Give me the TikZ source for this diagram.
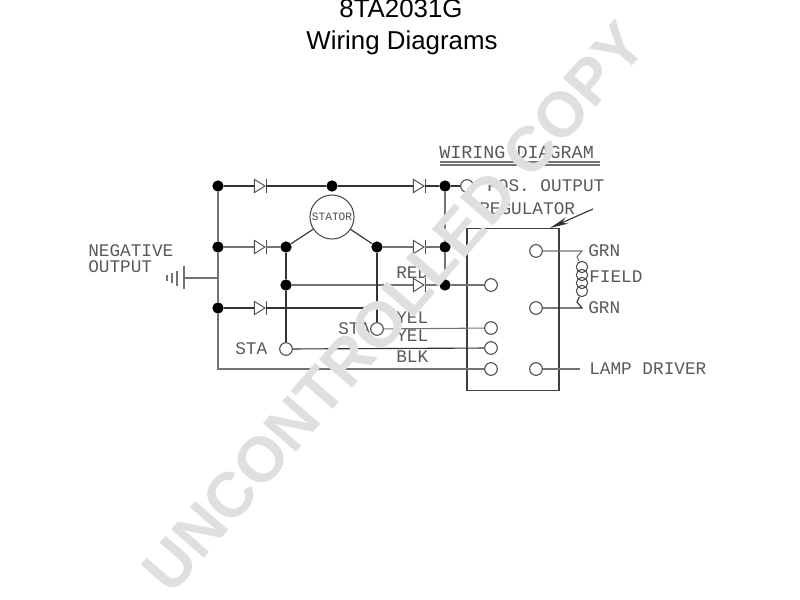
\documentclass[tikz,border=0pt]{standalone}
\usepackage{fontspec}
\setmainfont{Liberation Sans}
\setmonofont{Liberation Mono}
\usetikzlibrary{shapes.geometric}
\usetikzlibrary{arrows.meta}
\definecolor{wmark}{HTML}{DFDFDF}

\begin{document}
\begin{tikzpicture}[
        x=0.75pt, y=-0.75pt,
        wire/.style={draw=black!80, line width=0.85pt},
        wirelight/.style={draw=black!55, line width=0.8pt},
        dot/.style={circle, fill=black, inner sep=0pt, minimum size=8.5pt},
        term/.style={circle, draw=black!70, fill=white, line width=0.8pt, inner sep=0pt, minimum size=9.5pt},
        diode/.style={isosceles triangle, isosceles triangle stretches, draw=black!70, fill=white, line width=0.7pt, inner sep=0pt, minimum height=8pt, minimum width=10pt,
          append after command={([yshift=5pt]\tikzlastnode.apex) edge[black!70, line width=0.7pt] ([yshift=-5pt]\tikzlastnode.apex)}},
        cad/.style={font=\ttfamily\fontsize{13.3}{14}\selectfont, text=black!65, inner sep=0pt, anchor=west},
        coilturn/.style={circle, draw=black!70, line width=0.8pt, inner sep=0pt, minimum size=8.5pt}
      ]
        \useasboundingbox (0,0) rectangle (800,600);

        % titles
        \node[font=\fontsize{19.4}{20}\selectfont] (title)  at (401,9)  {8TA2031G};
        \node[font=\fontsize{19.4}{20}\selectfont] (titleb) at (402,43) {Wiring Diagrams};

        % junctions
        \node[dot] (topL)  at (218,186) {};
        \node[dot] (topM)  at (332,186) {};
        \node[dot] (topR)  at (445,186) {};
        \node[dot] (midL)  at (218,247) {};
        \node[dot] (midA)  at (286,247) {};
        \node[dot] (midB)  at (377,247) {};
        \node[dot] (midR)  at (445,247) {};
        \node[dot] (redA)  at (286,285) {};
        \node[dot] (redB)  at (445,285) {};
        \node[dot] (lowL)  at (218,308) {};
        \coordinate (lowR)  at (377,308);
        \coordinate (botL)  at (218,369);
        \coordinate (gndT)  at (218,278);

        % diodes
        \node[diode] (dTopA) at (258,186) {};
        \node[diode] (dTopB) at (417,186) {};
        \node[diode] (dMidA) at (258,247) {};
        \node[diode] (dMidB) at (417,247) {};
        \node[diode] (dRed)  at (417,285) {};
        \node[diode] (dLow)  at (258,308) {};

        % stator
        \node[circle, draw=black!70, fill=white, line width=0.8pt, minimum size=33pt, inner sep=0pt] (stator) at (332,217) {};
        \node[font=\ttfamily\fontsize{8.4}{9}\selectfont, text=black!70, inner sep=0pt] (statorT) at (332,217) {STATOR};

        % terminals
        \node[term] (posT)  at (467,186) {};
        \node[term] (stA)   at (286,349) {};
        \node[term] (stB)   at (377,329) {};
        \node[term] (regA)  at (491,285) {};
        \node[term] (regB)  at (491,328) {};
        \node[term] (regC)  at (491,348) {};
        \node[term] (regD)  at (491,369) {};
        \node[term] (regE)  at (536,251) {};
        \node[term] (regF)  at (536,308) {};
        \node[term] (regG)  at (536,369) {};

        % regulator box
        \node[rectangle, draw=black!75, line width=0.9pt, minimum width=69pt, minimum height=122pt] (reg) at (513,309.5) {};

        % wires
        \draw[wire]      (topL) -- (dTopA) -- (topM) -- (dTopB) -- (topR) -- (posT);
        \draw[wirelight] (midL) -- (dMidA) -- (midA);
        \draw[wirelight] (midB) -- (dMidB) -- (midR);
        \draw[wire]      (midA) -- (stator);
        \draw[wire]      (midB) -- (stator);
        \draw[wirelight] (topL) -- (midL) -- (lowL) -- (botL) -- (regD);
        \draw[wirelight] (topR) -- (midR) -- (redB);
        \draw[wirelight] (redA) -- (dRed) -- (redB) -- (regA);
        \draw[wire]      (lowL) -- (dLow) -- (lowR);
        \draw[wire]      (midA) -- (redA) -- (stA);
        \draw[wire]      (midB) -- (stB);
        \draw[wire]      (stA) -- (regC);
        \draw[wirelight] (stB) -- (regB);

        % ground
        \coordinate (gndA) at (184,278);
        \draw[wirelight] (gndT) -- (gndA);
        \draw[wirelight] (184,266) -- (184,289);
        \draw[wirelight] (177,271) -- (177,286);
        \draw[wirelight] (172,273) -- (172,283);
        \draw[wirelight] (167,275) -- (167,281);

        % field coil
        \coordinate (coilA) at (582,251);
        \coordinate (coilB) at (582,308);
        \coordinate (coilC) at (577,257);
        \coordinate (coilD) at (577,302);
        \node[coilturn] (turnA) at (582,267) {};
        \node[coilturn] (turnB) at (582,275) {};
        \node[coilturn] (turnC) at (582,283) {};
        \node[coilturn] (turnD) at (582,291) {};
        \draw[wirelight] (regE) -- (coilA) -- (coilC) -- (turnA);
        \draw[wire]      (regF) -- (coilB) -- (coilD) -- (turnD);

        % lamp driver lead
        \coordinate (lampT) at (580,369);
        \draw[wirelight] (regG) -- (lampT);

        % regulator pointer
        \coordinate (ptrA) at (593,209);
        \coordinate (ptrB) at (550,228);
        \draw[wire, -{Stealth[length=14pt,width=5pt]}] (ptrA) -- (ptrB);

        % labels
        \node[cad, font=\ttfamily\fontsize{13.8}{14}\selectfont] (wiring)  at (439,152) {WIRING DIAGRAM};
        \node[cad] (posout)  at (487,186) {POS. OUTPUT};
        \node[cad] (regul)   at (479,209) {REGULATOR};
        \node[cad] (neg)     at (88,251)  {NEGATIVE};
        \node[cad] (out)     at (88,267)  {OUTPUT};
        \node[cad] (red)     at (396,273) {RED};
        \node[cad] (yelA)    at (396,318) {YEL};
        \node[cad] (yelB)    at (396,336) {YEL};
        \node[cad] (blk)     at (396,357) {BLK};
        \node[cad] (sta)     at (235,349) {STA};
        \node[cad] (stb)     at (338,329) {STA};
        \node[cad] (grnA)    at (588,251) {GRN};
        \node[cad] (grnB)    at (588,308) {GRN};
        \node[cad] (field)   at (589,277) {FIELD};
        \node[cad] (lamp)    at (589,369) {LAMP DRIVER};

        \coordinate (ulA) at (440,162);
        \coordinate (ulB) at (600,162);
        \coordinate (ulC) at (440,165);
        \coordinate (ulD) at (600,165);
        \draw[wirelight] (ulA) -- (ulB);
        \draw[wirelight] (ulC) -- (ulD);

        % watermark on top
        \node[font=\bfseries\fontsize{47.5}{48}\selectfont, text=wmark, rotate=49, inner sep=0pt] (stamp) at (394,307) {UNCONTROLLED COPY};
      \end{tikzpicture}
\end{document}
